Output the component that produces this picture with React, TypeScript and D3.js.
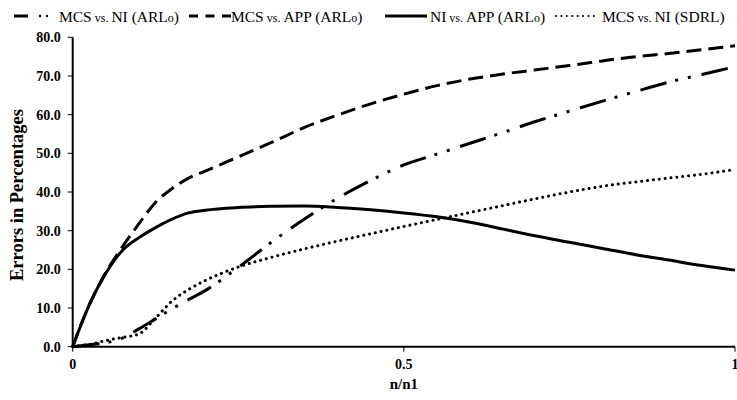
import React from "react";
import * as d3 from "d3";

const W = 737;
const H = 400;

const tValues = [0, 0.01, 0.025, 0.05, 0.075, 0.1, 0.125, 0.15, 0.175, 0.2, 0.25, 0.3, 0.35, 0.4, 0.45, 0.5, 0.55, 0.6, 0.65, 0.7, 0.75, 0.8, 0.85, 0.9, 0.95, 1];

const mcsNiArl = [0, 0.2, 0.5, 1.0, 2.2, 4.6, 7.2, 9.8, 12.2, 14.5, 20.5, 27.0, 33.0, 38.4, 43.0, 47.0, 49.8, 52.6, 55.4, 58.3, 60.9, 63.5, 66.0, 68.4, 70.4, 72.4];
const mcsAppArl = [0, 4.6, 10.8, 19.2, 25.8, 31.8, 37.3, 40.9, 43.6, 45.4, 49.1, 52.8, 56.7, 59.9, 62.8, 65.3, 67.5, 69.2, 70.5, 71.6, 72.7, 73.9, 75.0, 75.8, 76.8, 77.8];
const niAppArl = [0, 4.5, 10.8, 19.0, 24.9, 28.2, 30.8, 33.0, 34.6, 35.3, 36.0, 36.3, 36.4, 36.0, 35.4, 34.6, 33.6, 32.2, 30.4, 28.6, 27.0, 25.4, 23.8, 22.4, 21.0, 19.8];
const mcsNiSdrl = [0, 0.3, 0.6, 1.6, 2.4, 3.3, 7.4, 11.8, 14.8, 17.1, 20.6, 23.1, 25.3, 27.3, 29.2, 31.1, 32.9, 34.7, 36.5, 38.3, 40.0, 41.5, 42.6, 43.6, 44.6, 45.8];

const yTicks = [0, 10, 20, 30, 40, 50, 60, 70, 80];
const xTicks = [0, 0.5, 1];
const xTickLabels = ["0", "0.5", "1"];

const seriesNames = ["MCS vs. NI (ARLo)", "MCS vs. APP  (ARLo)", "NI vs. APP (ARLo)", "MCS vs. NI (SDRL)"];

const series = [
  { name: seriesNames[0], values: mcsNiArl, dash: "27 9 3 10 3 11", cap: "butt", w: 3 },
  { name: seriesNames[1], values: mcsAppArl, dash: "15 7", cap: "butt", w: 3 },
  { name: seriesNames[2], values: niAppArl, dash: "", cap: "butt", w: 3 },
  { name: seriesNames[3], values: mcsNiSdrl, dash: "0.1 5.8", cap: "round", w: 3 },
];

const M = { left: 72.7, right: 735, top: 37.3, bottom: 346.7 };

export default function App() {
  const x = d3.scaleLinear().domain([0, 1]).range([M.left, M.right]);
  const y = d3.scaleLinear().domain([0, 80]).range([M.bottom, M.top]);
  const line = d3
    .line<number>()
    .x((_, i) => x(tValues[i]))
    .y((d) => y(d))
    .curve(d3.curveMonotoneX);

  const serif = "'Liberation Serif', 'Times New Roman', serif";

  const legendItems = [
    { sx: 14, sw: 14, tx: 59, label: ["MCS", " vs. ", "NI (ARL", "o", ")"], kind: "dashdot" },
    { sx: 189, sw: 42, tx: 231, label: ["MCS", " vs. ", "APP  (ARL", "o", ")"], kind: "dash" },
    { sx: 385, sw: 42, tx: 430, label: ["NI", " vs. ", "APP (ARL", "o", ")"], kind: "solid" },
    { sx: 555, sw: 43, tx: 602, label: ["MCS", " vs. ", "NI (SDRL)", "", ""], kind: "dot" },
  ];
  const ly = 16;

  return (
    <svg
      width={W}
      height={H}
      style={{ position: "absolute", left: 0, top: 0, background: "#fff" }}
      fontFamily={serif}
    >
      {legendItems.map((it, i) => (
        <g key={i}>
          {it.kind === "dashdot" && (
            <g>
              <line x1={it.sx} x2={it.sx + it.sw} y1={ly} y2={ly} stroke="#000" strokeWidth={3} />
              <circle cx={it.sx + 26} cy={ly} r={1.2} fill="#000" />
              <circle cx={it.sx + 33} cy={ly} r={1.2} fill="#000" />
            </g>
          )}
          {it.kind === "dash" && (
            <line x1={it.sx} x2={it.sx + it.sw} y1={ly} y2={ly} stroke="#000" strokeWidth={3} strokeDasharray="9 7.5" />
          )}
          {it.kind === "solid" && (
            <line x1={it.sx} x2={it.sx + it.sw} y1={ly} y2={ly} stroke="#000" strokeWidth={3} />
          )}
          {it.kind === "dot" && (
            <line x1={it.sx + 1} x2={it.sx + it.sw} y1={ly} y2={ly} stroke="#000" strokeWidth={2} strokeDasharray="0.1 5.3" strokeLinecap="round" />
          )}
          <text x={it.tx} y={ly + 5.5} fontSize={15.5} fill="#000">
            <tspan>{it.label[0]}</tspan>
            <tspan fontSize={12}>{it.label[1]}</tspan>
            <tspan>{it.label[2]}</tspan>
            <tspan fontSize={12}>{it.label[3]}</tspan>
            <tspan>{it.label[4]}</tspan>
          </text>
        </g>
      ))}

      <line x1={M.left} x2={M.left} y1={M.top} y2={M.bottom} stroke="#000" strokeWidth={2} />
      <line x1={M.left} x2={M.right} y1={M.bottom} y2={M.bottom} stroke="#000" strokeWidth={2} />
      {yTicks.map((t) => (
        <g key={t}>
          <line x1={M.left - 5} x2={M.left} y1={y(t)} y2={y(t)} stroke="#000" strokeWidth={1} />
          <text x={M.left - 12} y={y(t) + 5} textAnchor="end" fontSize={14} fontWeight="bold">
            {t.toFixed(1)}
          </text>
        </g>
      ))}
      {xTicks.map((t, i) => (
        <g key={t}>
          <line x1={x(t)} x2={x(t)} y1={M.bottom} y2={M.bottom + 5} stroke="#000" strokeWidth={1} />
          <text x={x(t)} y={M.bottom + 22} textAnchor="middle" fontSize={14} fontWeight="bold">
            {xTickLabels[i]}
          </text>
        </g>
      ))}
      <text x={x(0.5)} y={389} textAnchor="middle" fontSize={15} fontWeight="bold">
        n/n1
      </text>
      <text
        transform={`translate(23, 195) rotate(-90)`}
        textAnchor="middle"
        fontSize={18.5}
        fontWeight="bold"
      >
        Errors in Percentages
      </text>

      {series.map((s, i) => (
        <path
          key={i}
          d={line(s.values) || ""}
          fill="none"
          stroke="#000"
          strokeWidth={s.w}
          strokeDasharray={s.dash || undefined}
          strokeLinecap={s.cap as any}
        />
      ))}
    </svg>
  );
}
